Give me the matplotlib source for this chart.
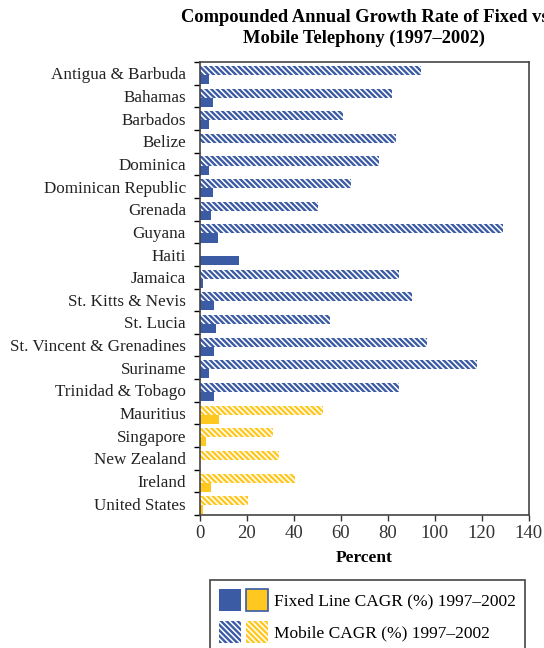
import numpy as np
import matplotlib
matplotlib.use("Agg")
import matplotlib.pyplot as plt
from matplotlib.patches import Patch
from matplotlib.legend_handler import HandlerTuple

plt.rcParams["font.family"] = ["Liberation Serif", "DejaVu Serif"]
plt.rcParams["hatch.linewidth"] = 1.7

countries = ["Antigua & Barbuda", "Bahamas", "Barbados", "Belize", "Dominica",
             "Dominican Republic", "Grenada", "Guyana", "Haiti", "Jamaica",
             "St. Kitts & Nevis", "St. Lucia", "St. Vincent & Grenadines",
             "Suriname", "Trinidad & Tobago", "Mauritius", "Singapore",
             "New Zealand", "Ireland", "United States"]
fixed = [3.8, 5.4, 3.8, 0.0, 3.8, 5.4, 4.7, 7.5, 16.6, 1.1,
         6.0, 6.8, 6.0, 3.8, 6.0, 8.1, 2.6, 0.0, 4.7, 1.1]
mobile = [94.1, 81.9, 61.0, 83.3, 76.1, 64.3, 50.4, 129.0, 0.0, 84.6,
          90.2, 55.4, 96.5, 117.8, 84.6, 52.5, 31.1, 33.8, 40.6, 20.6]
n_caribbean = 15

blue = "#3B5BA5"
yellow = "#FFC820"
colors = [blue if i < n_caribbean else yellow for i in range(len(countries))]
hatch = "\\" * 6

fig = plt.figure(figsize=(5.44, 6.48), dpi=100)
ax = fig.add_axes([0.3676, 0.2052, 0.6044, 0.6991])

y = np.arange(len(countries))
h = 0.4
off = 0.07
for i in range(len(countries)):
    ax.barh(y[i] - h / 2 + off, mobile[i], height=h, color="white",
            edgecolor=colors[i], hatch=hatch, linewidth=0)
    ax.barh(y[i] + h / 2 + off, fixed[i], height=h, color=colors[i],
            linewidth=0)

ax.set_ylim(len(countries) - 0.5, -0.5)
ax.set_xlim(0, 140)
ax.set_xticks(np.arange(0, 141, 20))
ax.set_yticks(y)
ax.set_yticklabels(countries, color="#222222")
ax.set_yticks(np.arange(-0.5, len(countries)), minor=True)
ax.tick_params(axis="y", which="major", length=0, pad=10, labelsize=12.3)
ax.tick_params(axis="y", which="minor", length=4, width=1, direction="out")
ax.tick_params(axis="x", length=4, width=1, direction="out", labelsize=13.5,
               colors="#333333", labelcolor="#333333", pad=3)
for s in ax.spines.values():
    s.set_linewidth(1.2)
    s.set_color("#444444")

ax.set_xlabel("Percent", fontsize=12.5, fontweight="bold", labelpad=6)
ax.set_title("Compounded Annual Growth Rate of Fixed vs\nMobile Telephony (1997\u20132002)",
             fontsize=13.3, fontweight="bold", pad=14, linespacing=1.25)

h_fixed = (Patch(facecolor=blue, edgecolor=blue, linewidth=0),
           Patch(facecolor=yellow, edgecolor=blue, linewidth=1.2))
h_mobile = (Patch(facecolor="white", edgecolor=blue, hatch=hatch, linewidth=0),
            Patch(facecolor="white", edgecolor=yellow, hatch=hatch, linewidth=0))
leg = fig.legend([h_fixed, h_mobile],
                 ["Fixed Line CAGR (%) 1997\u20132002", "Mobile CAGR (%) 1997\u20132002"],
                 handler_map={tuple: HandlerTuple(ndivide=None, pad=0.3)},
                 loc="upper left", bbox_to_anchor=(210 / 544, 1 - 580 / 648),
                 borderaxespad=0, fontsize=12.5, handlelength=2.85, handleheight=1.6,
                 handletextpad=0.35, labelspacing=0.55, borderpad=0.5,
                 fancybox=False, edgecolor="#444444", framealpha=1)
leg.get_frame().set_linewidth(1.2)

fig.savefig("out.png", dpi=100)
